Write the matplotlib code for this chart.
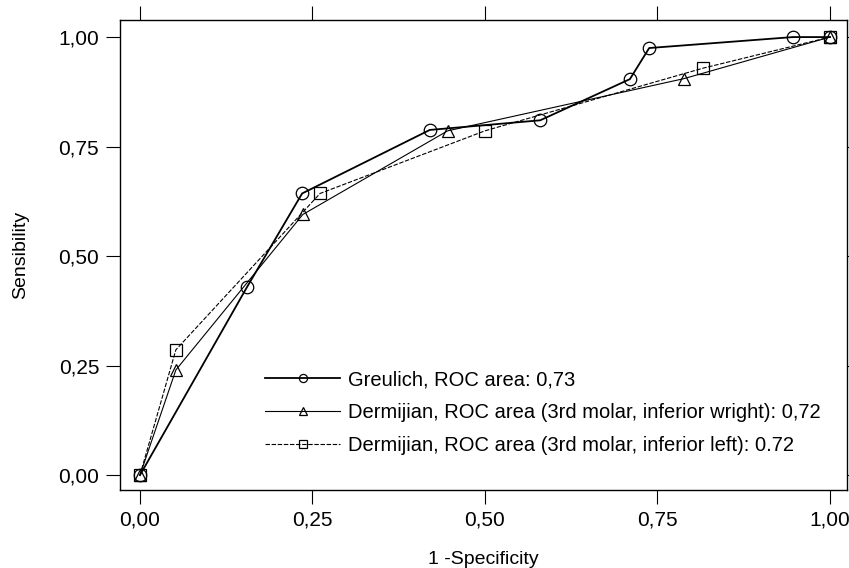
import matplotlib
matplotlib.use("Agg")
import matplotlib.pyplot as plt

plt.rcParams['font.family'] = ['Liberation Sans', 'DejaVu Sans']

# Greulich
greulich_x = [0.0, 0.155, 0.235, 0.42, 0.58, 0.71, 0.738, 0.946, 1.0]
greulich_y = [0.0, 0.429, 0.643, 0.788, 0.81, 0.904, 0.975, 1.0, 1.0]

# Dermijian, inferior right
derm_r_x = [0.0, 0.052, 0.236, 0.446, 0.788, 1.0]
derm_r_y = [0.0, 0.24, 0.595, 0.786, 0.905, 1.0]

# Dermijian, inferior left
derm_l_x = [0.0, 0.052, 0.261, 0.5, 0.816, 1.0]
derm_l_y = [0.0, 0.286, 0.643, 0.786, 0.929, 1.0]

labels = ["Greulich, ROC area: 0,73",
          "Dermijian, ROC area (3rd molar, inferior wright): 0,72",
          "Dermijian, ROC area (3rd molar, inferior left): 0.72"]

ticks = [0.0, 0.25, 0.5, 0.75, 1.0]
tick_labels = ["0,00", "0,25", "0,50", "0,75", "1,00"]

fig = plt.figure(figsize=(8.49, 5.68), dpi=100)
ax = fig.add_axes([0.1413, 0.1373, 0.8563, 0.8275])

ms = 9
ax.plot(greulich_x, greulich_y, color='black', linestyle='-', linewidth=1.3,
        marker='o', markersize=ms, fillstyle='none', markeredgewidth=0.9, label=labels[0])
ax.plot(derm_r_x, derm_r_y, color='black', linestyle='-', linewidth=0.8,
        marker='^', markersize=ms, fillstyle='none', markeredgewidth=0.9, label=labels[1])
ax.plot(derm_l_x, derm_l_y, color='black', linestyle=(0, (4, 1.5)), linewidth=0.8,
        marker='s', markersize=ms, fillstyle='none', markeredgewidth=0.9, label=labels[2])

ax.set_xlim(-0.029, 1.0246)
ax.set_ylim(-0.034, 1.039)
ax.set_xticks(ticks)
ax.set_xticklabels(tick_labels)
ax.set_yticks(ticks)
ax.set_yticklabels(tick_labels)
ax.tick_params(direction='out', length=10, width=0.8, labelsize=15,
               top=True, right=True, pad=5)
for s in ax.spines.values():
    s.set_linewidth(1.0)

ax.set_xlabel("1 -Specificity", fontsize=14, labelpad=15)
ax.set_ylabel("Sensibility", fontsize=14, labelpad=21)

ax.legend(loc='upper left', bbox_to_anchor=(0.175, 0.293), frameon=False,
          fontsize=14.5, handlelength=3.7, handletextpad=0.4, labelspacing=0.68,
          markerscale=0.65)

fig.savefig("out.png", dpi=100)
